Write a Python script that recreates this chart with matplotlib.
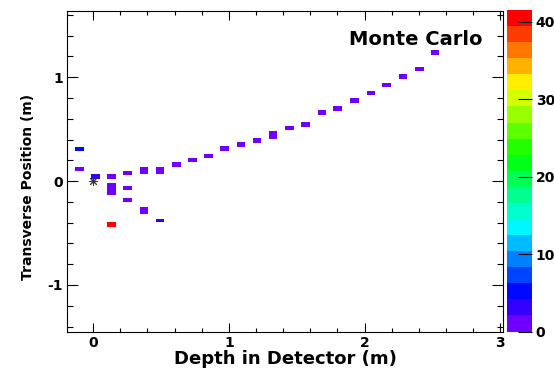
import numpy as np
import matplotlib
matplotlib.use("Agg")
import matplotlib.pyplot as plt
from matplotlib.colors import ListedColormap, BoundaryNorm, hsv_to_rgb
from matplotlib.ticker import MultipleLocator
from matplotlib.cm import ScalarMappable

# ---- data: occupied bins (layer centre in depth, transverse lower/upper edge, counts)
hit_x = [-0.100, -0.100, 0.016, 0.134, 0.134, 0.134, 0.255, 0.255, 0.255,
         0.374, 0.374, 0.493, 0.493, 0.614, 0.731, 0.850, 0.970, 1.090,
         1.209, 1.327, 1.448, 1.566, 1.688, 1.802, 1.925, 2.046, 2.161,
         2.282, 2.404, 2.518]
hit_ylo = [0.289, 0.096, 0.022, 0.024, -0.134, -0.439, 0.061, -0.090, -0.205,
           0.064, -0.321, 0.064, -0.398, 0.139, 0.179, 0.218, 0.294, 0.330,
           0.368, 0.407, 0.488, 0.522, 0.638, 0.676, 0.753, 0.827, 0.904,
           0.984, 1.058, 1.214]
hit_yhi = [0.331, 0.138, 0.068, 0.066, -0.016, -0.397, 0.099, -0.049, -0.164,
           0.137, -0.248, 0.137, -0.362, 0.180, 0.221, 0.256, 0.336, 0.372,
           0.414, 0.484, 0.526, 0.568, 0.680, 0.718, 0.795, 0.869, 0.946,
           1.026, 1.100, 1.260]
hit_counts = [5, 1, 3, 1, 1, 40, 1, 1, 1,
              1, 1, 1, 3, 1, 1, 1, 1, 1,
              1, 1, 1, 1, 1, 1, 1, 1, 1,
              1, 1, 1]
vertex_x = [0.0]
vertex_y = [0.0]
x_ticks = [0, 1, 2, 3]
y_ticks = [-1, 0, 1]
z_ticks = [0, 10, 20, 30, 40]
z_max = 41.5
n_levels = 20
title_text = "Monte Carlo"
x_label = "Depth in Detector (m)"
y_label = "Transverse Position (m)"

# ---- palette (ROOT-like rainbow, violet -> red)
hues = np.linspace(266, 0, n_levels) / 360.0
cols = hsv_to_rgb(np.column_stack([hues, np.ones(n_levels), np.ones(n_levels)]))
cmap = ListedColormap(cols)
norm = BoundaryNorm(np.linspace(0, z_max, n_levels + 1), n_levels)

plt.rcParams['font.family'] = ['DejaVu Sans']
plt.rcParams['font.weight'] = 'bold'
plt.rcParams['axes.unicode_minus'] = False

fig = plt.figure(figsize=(5.54, 3.70), dpi=100)
W, H = 554.0, 370.0
ax = fig.add_axes([67.3 / W, 1 - 331.7 / H, (503 - 67.3) / W, (331.7 - 10.7) / H])

heights = np.array(hit_yhi) - np.array(hit_ylo)
ax.bar(hit_x, heights, width=0.063, bottom=hit_ylo,
       color=cmap(norm(np.array(hit_counts))), linewidth=0, zorder=2)

ax.plot(vertex_x, vertex_y, marker=(8, 2, 0), markersize=6.5, color='#333333',
        markeredgewidth=0.7, linestyle='none', zorder=3)

ax.set_xlim(-0.19, 3.02)
ax.set_ylim(-1.45, 1.64)
ax.set_xticks(x_ticks)
ax.set_yticks(y_ticks)
ax.xaxis.set_minor_locator(MultipleLocator(0.2))
ax.yaxis.set_minor_locator(MultipleLocator(0.2))
ax.tick_params(axis='both', which='both', direction='in', top=True, right=True,
               width=0.8, labelsize=10)
ax.tick_params(axis='x', which='major', length=6.5, pad=3)
ax.tick_params(axis='x', which='minor', length=3.2)
ax.tick_params(axis='y', which='major', length=8, pad=3)
ax.tick_params(axis='y', which='minor', length=4)
for lab in ax.get_xticklabels() + ax.get_yticklabels():
    lab.set_fontweight('bold')
for sp in ax.spines.values():
    sp.set_linewidth(0.8)

ax.set_xlabel(x_label, fontsize=13, fontweight='bold', va='top')
ax.xaxis.set_label_coords(0.50, -0.057)
ax.set_ylabel(y_label, fontsize=10, fontweight='bold')
ax.yaxis.set_label_coords(-0.074, 0.45)

ax.text(0.80, 0.8916, title_text, transform=ax.transAxes, ha='center',
        va='baseline', fontsize=14, fontweight='bold')

# ---- colour scale
cax = fig.add_axes([506.7 / W, 1 - 331.5 / H, (531.7 - 506.7) / W, (331.5 - 10) / H])
sm = ScalarMappable(norm=norm, cmap=cmap)
cb = fig.colorbar(sm, cax=cax, ticks=z_ticks)
cb.outline.set_visible(False)
cax.tick_params(direction='in', length=10, width=0.8, labelsize=10, pad=3, right=True)
cax.minorticks_off()
for lab in cax.get_yticklabels():
    lab.set_fontweight('bold')

fig.savefig("out.png", dpi=100, facecolor='white')
